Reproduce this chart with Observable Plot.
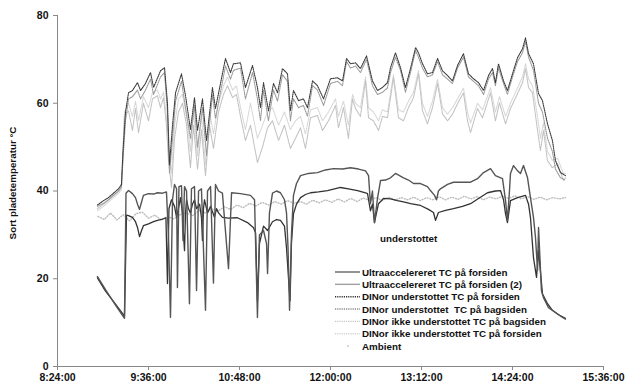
<!DOCTYPE html>
<html><head><meta charset="utf-8">
<script src="https://cdn.jsdelivr.net/npm/d3@7"></script>
<script src="https://cdn.jsdelivr.net/npm/@observablehq/plot@0.6"></script>
<style>
body{margin:0;background:#fff;}
#wrap{position:relative;width:628px;height:387px;font-family:"Liberation Sans",Arial,sans-serif;}
#wrap svg{display:block;}
#overlay{position:absolute;left:0;top:0;pointer-events:none;}
</style></head>
<body><div id="wrap"></div>
<script>
// time axis: minutes after 8:24:00
const xTicks = [0, 72, 144, 216, 288, 360, 432];
const yTicks = [0, 20, 40, 60, 80];
const startClock = 8 * 60 + 24;

// DINor understøttet series (shared time)
const tTop = [31.6,36.4,40.4,44.3,48.3,50.6,51.8,53.8,56.2,59.3,63.3,65.7,69.6,73.6,76.0,81.5,84.7,87.0,88.6,91.0,93.4,98.1,101.3,105.2,108.4,110.8,114.7,117.9,122.6,125.0,132.9,136.9,139.2,144.8,148.7,154.3,158.2,160.6,163.0,166.9,170.9,174.1,178.0,182.0,184.3,186.7,190.7,194.6,197.8,201.8,205.7,210.5,216.0,221.5,225.5,228.7,231.8,235.8,239.7,244.5,249.2,253.2,257.1,261.1,263.5,267.4,271.4,275.3,279.3,283.3,285.6,288.8,292.7,296.7,300.7,304.6,308.6,312.5,316.5,321.2,325.2,329.1,333.1,337.1,341.0,344.2,346.5,348.9,352.9,356.0,360.0,364.0,367.9,370.3,372.7,376.6,380.6,383.7,387.7,391.6,394.0,398.0,401.9];
const dinorStForside = [36.8,37.8,38.5,39.5,40.5,41.5,49,58,62.4,62.9,64.7,62.9,64.5,67,63.6,67.4,68.1,60.1,46,55,62.4,66.7,61.7,54,61.3,53.8,61,51.5,63.6,58.8,70.2,67,69,69.2,63.6,68.6,63.6,59,64.7,58.3,64.5,62.4,67.9,66.7,58.3,62.9,60.6,61,59,65.1,64,61,65.6,65.8,65.1,70.2,69,69.2,67.9,70.8,65.1,62.9,63.6,64.7,68.1,71.5,68.1,63.6,67.9,72.7,71.5,69,66.7,67,70.2,67.4,66.3,65.1,68.6,71.3,66.7,65.6,64.7,62.9,66.3,67.9,64.7,69,65.1,62.9,66.7,70.4,72.4,74.9,71.3,69,62.2,60.6,55.3,51.5,46.9,44.2,43.5];
const dinorStBagside = [36.5,37.2,38,39,40,41,47,56,61,61.5,63,61,63,65.5,62,66,67,58,44,52,60.5,65,59,52,59.5,50,59,48,62,56.5,68.5,65.5,67.5,68,61,67,61,56,63,56,63,60.5,66.5,65,56,61,59,59.5,57,64,63,59.5,64.5,65,64,69.5,68,68.5,67,70,64,62,62.5,63.5,67,70.5,67.5,62.5,67,72,70.5,68,66,66.5,69.5,66.5,65.5,64.5,68,70.5,66,65,64,62,65.5,67,64,68,64.5,62,66,69.5,71.5,74,70.5,67.5,60,58,52,49,45,43,42.5];

// DINor ikke understøttet series (shared time)
const tLow = [31.6,36.4,40.4,44.3,48.3,50.6,51.8,53.0,56.2,59.3,61.7,64.1,68.0,72.0,75.2,79.1,81.5,83.9,86.2,87.8,90.2,92.6,95.7,98.9,102.1,105.2,107.6,110.8,113.9,117.1,120.3,123.4,127.4,131.3,134.5,138.5,141.6,144.8,148.7,152.7,158.2,162.2,166.2,170.1,174.9,179.6,184.3,188.3,192.3,196.2,200.2,205.7,209.7,214.4,220.0,222.3,226.3,230.2,233.4,235.8,239.7,243.7,246.1,250.0,254.0,257.1,261.1,265.8,269.8,273.8,277.7,281.7,285.6,288.8,292.7,296.7,300.7,304.6,308.6,312.5,316.5,321.2,324.4,326.8,332.3,336.3,342.6,346.5,349.7,354.5,358.4,364.0,367.9,370.3,372.7,375.8,379.8,382.1,384.5,387.7,391.6,395.6,400.3,401.9];
const dinorIkkeBagside = [36,37,38,39,40,40.8,48,57,58.3,53.8,58.8,53.3,60,56,61,61.7,59,61.3,55,47,40.8,52,58,60,55,45.3,55,45,54,43.5,55,49.7,58,62,64,61.3,62,57,51.5,55,46.5,50,54.4,56,51.5,55,49.7,52,54.4,49.7,56.7,57.2,53.8,56,59.5,54.4,59,52,61,58.8,57,65.1,56.7,56,53.8,57,56.7,65.8,56.7,56,59,61.3,66.7,58.3,55.3,59,64.5,57.6,56,57.5,59.9,62.4,56,53.3,58.8,56.7,62.4,56,60.1,55.3,58.8,62.2,64.7,67.9,63.6,62.4,53.8,49.2,53.8,46.9,45.3,46.2,42.4,43];
const dinorIkkeForside = [35.5,36.5,37.5,38.5,39.5,40.3,50,58,60,57,60.5,56,61.5,59,62.5,63,61,62.5,57,50,44,55,61,62,57,49,58,48,57,46,58,53,60,64,66,63,64,59,54,60,52,55,58,59,55,58,54,56,57,53,58.5,59,56,58,61,57,60.5,55,62,60,59,66,59,58,56,58.5,58,66.5,58.5,58,60.5,62.5,67.5,60,57,60.5,65.5,59,57.5,59,61,63.5,58,55.5,60,58.5,63.5,58,61.5,57,60,63.5,66,69,65.5,64,57,52,55.5,49,47,47.5,44,44];

// Ultraaccelereret series: [minutes after 8:24, °C]
const ultraForside = [[31.6,20.5],[38.0,17.5],[45.9,14.0],[53.0,11.0],[54.2,39.5],[56.2,40.1],[59.3,39.4],[61.7,38.5],[63.3,37.0],[64.9,35.8],[66.5,37.5],[68.0,39.0],[72.0,39.4],[76.0,39.3],[79.1,39.6],[83.1,39.5],[86.2,39.8],[87.8,30],[89.4,11.2],[91.0,38],[92.6,41.5],[94.2,40.5],[94.9,18],[96.1,41],[98.1,41.2],[99.3,28.7],[100.5,41],[102.1,40],[104.4,14.3],[106.0,40.5],[108.4,41],[110.0,17.3],[111.6,40],[113.9,40.5],[117.1,12.8],[118.7,40],[121.1,41],[123.4,19],[125.0,41.5],[127.4,40],[130.5,39.5],[135.3,22.3],[137.7,39.6],[144.8,39.4],[152.7,39.0],[155.9,38.0],[158.2,11.2],[159.8,30],[163.0,31],[165.4,28],[166.2,21.2],[167.7,35],[170.1,39.5],[173.3,40.0],[176.4,39.6],[179.6,38],[181.2,35],[182.4,27],[183.6,12.8],[185.1,30],[186.7,39],[189.1,41.7],[192.3,43.5],[198.6,44],[205.7,44.2],[212.0,44.8],[218.4,45.1],[225.5,45.0],[231.8,45.3],[238.2,45],[243.7,44.6],[246.1,43.5],[247.6,37.1],[249.2,40],[250.8,32.8],[253.2,38.3],[255.6,42.4],[259.5,42.5],[263.5,43],[267.4,44],[273.8,43],[277.7,42.5],[281.7,41.7],[287.2,41.7],[292.7,41],[295.1,40.1],[298.3,39],[299.9,38],[301.4,40],[303.0,40.5],[308.6,41.5],[313.3,42],[318.9,42],[326.8,42],[332.3,42.8],[337.1,44.2],[342.6,45.1],[346.5,43.5],[352.1,42.8],[354.5,37.8],[356.0,33.3],[357.6,40],[358.4,44],[360.8,45.8],[364.0,44.6],[366.3,44],[368.7,45.8],[371.9,43],[374.2,38.5],[376.6,34],[378.2,29.4],[379.8,21.9],[380.6,31.7],[382.9,17.3],[384.5,15.7],[388.5,13.4],[394.0,12.3],[398.0,11.5],[401.9,10.8]];
const ultraForside2 = [[31.6,20.2],[38.0,17.2],[45.9,14.2],[53.0,11.5],[54.6,34.5],[56.2,34.4],[59.3,34.0],[61.7,33.0],[63.3,31.7],[64.9,29.6],[66.5,31.0],[68.0,32.1],[72.0,32.5],[76.0,33.0],[79.1,33.3],[83.1,33.6],[85.8,33.9],[87.0,18.9],[88.2,36],[90.2,38],[92.6,36.5],[94.2,34],[95.7,36],[97.3,38.5],[98.9,35],[99.7,30],[100.5,26.4],[101.3,35],[102.1,38],[103.6,36],[105.2,35],[106.8,37],[108.4,38],[110.0,36],[112.4,37],[113.9,34],[114.7,28.7],[115.5,36],[116.3,38],[118.7,35],[121.1,36.5],[124.2,34],[125.8,36],[127.4,35],[130.5,34.0],[135.3,33.8],[142.4,33.9],[150.3,32.8],[155.1,31.6],[156.7,30.5],[158.2,15],[159.8,28],[163.0,32],[166.2,31],[170.1,33],[173.3,33.5],[176.4,33.3],[179.6,32],[181.2,27],[182.8,20],[184.0,15],[185.1,28],[186.7,34.8],[189.1,37],[192.3,38.5],[196.2,39.2],[200.2,39.6],[206.5,39.8],[213.6,40.1],[219.2,40.5],[223.9,40.8],[230.2,40.5],[237.4,40.1],[243.7,39.6],[245.3,39.4],[247.6,35.5],[249.2,37],[250.8,32.8],[252.4,35],[254.0,37.1],[257.9,38.3],[263.5,38.2],[269.0,37.8],[273.8,37.5],[279.3,37.1],[287.2,36.7],[293.5,35.8],[297.5,35.1],[299.1,33.3],[301.4,35.1],[307.0,35.6],[313.3,36],[320.4,36.5],[326.8,37.1],[333.1,38.3],[340.2,39.6],[346.5,40],[350.5,40.1],[352.9,38],[354.5,34.8],[356.0,32.8],[358.4,37.8],[364.0,38.5],[370.3,39],[372.7,37],[374.2,34],[376.6,24.8],[379.0,20.3],[380.6,26.4],[383.7,16.6],[387.7,14.3],[391.6,12.8],[396.4,11.8],[401.9,11.0]];

// Ambient: [minutes after 8:24, °C]
const ambient = [[32,34.2],[37,33.5],[42,35],[47,33.4],[52,34.6],[57,33.2],[62,34.8],[67,35.2],[72,33.8],[77,34.5],[82,33.4],[87,34.2],[92,33.6],[97,34.6],[102,35.0],[107,34.4],[112,35.6],[117,35.0],[122,36.0],[127,35.4],[132,36.4],[137,35.8],[142,36.8],[147,36.2],[152,37.2],[157,36.6],[162,37.4],[167,36.8],[172,37.6],[177,37.0],[182,37.8],[187,37.2],[192,37.6],[197,37.0],[202,37.9],[207,37.3],[212,38.0],[217,37.4],[222,38.2],[227,37.5],[232,38.3],[237,37.6],[242,38.4],[247,37.8],[252,38.5],[257,37.8],[262,38.6],[267,37.9],[272,38.5],[277,38.0],[282,38.6],[287,37.8],[292,38.5],[297,38.0],[302,38.7],[307,38.0],[312,38.6],[317,38.1],[322,38.8],[327,38.2],[332,38.7],[337,38.0],[342,38.6],[347,38.2],[352,38.8],[357,38.3],[362,38.9],[367,38.2],[372,38.7],[377,38.1],[382,38.6],[387,38.0],[392,38.5],[397,38.2],[402,38.5]];

const legendLabels = [
  "Ultraaccelereret TC på forsiden",
  "Ultraaccelereret TC på forsiden (2)",
  "DINor understottet TC på forsiden",
  "DINor understottet  TC på bagsiden",
  "DINor ikke understottet TC på bagsiden",
  "DINor ikke understottet TC på forsiden",
  "Ambient"
];
const legendColors = ["#666", "#a0a0a0", "#333", "#888", "#c4c4c4", "#d4d4d4", "#bbb"];
const legendDash = [null, null, "1.2,1", "1.2,1", "1.2,1", "1.2,1", "dot"];
const annotation = "understottet";
const yLabel = "Sort pladetemperatur °C";

const fmt = m => { const t = startClock + m; return `${Math.floor(t/60)}:${String(t%60).padStart(2,"0")}:00`; };
const zipTV = (t, v) => t.map((ti, i) => ({t: ti, v: v[i]}));
const pairs = a => a.map(([t, v]) => ({t, v}));

const chart = Plot.plot({
  width: 628, height: 387,
  marginLeft: 57, marginRight: 25, marginTop: 15, marginBottom: 21,
  style: {fontFamily: "'Liberation Sans', Arial, sans-serif", fontSize: "10.5px", fontWeight: "bold", color: "#111", background: "#fff"},
  x: {domain: [0, 432]},
  y: {domain: [0, 80]},
  marks: [
    Plot.line(zipTV(tLow, dinorIkkeForside), {x: "t", y: "v", stroke: "#d6d6d6", strokeWidth: 1.1, strokeDasharray: "1.2,1"}),
    Plot.line(zipTV(tLow, dinorIkkeBagside), {x: "t", y: "v", stroke: "#c2c2c2", strokeWidth: 1.1, strokeDasharray: "1.6,0.8"}),
    Plot.line(pairs(ambient), {x: "t", y: "v", stroke: "#bdbdbd", strokeWidth: 1.4, strokeDasharray: "1,1.8"}),
    Plot.line(zipTV(tTop, dinorStBagside), {x: "t", y: "v", stroke: "#9a9a9a", strokeWidth: 1.1, strokeDasharray: "1.2,1"}),
    Plot.line(zipTV(tTop, dinorStForside), {x: "t", y: "v", stroke: "#3a3a3a", strokeWidth: 1.1, strokeDasharray: "1.2,1"}),
    Plot.line(pairs(ultraForside2), {x: "t", y: "v", stroke: "#333", strokeWidth: 1.3}),
    Plot.line(pairs(ultraForside), {x: "t", y: "v", stroke: "#555", strokeWidth: 1.4}),
    Plot.ruleX([0], {stroke: "#888"}),
    Plot.ruleY([0], {stroke: "#888"}),
    Plot.axisX({ticks: xTicks, tickFormat: fmt, tickSize: 4, tickPadding: 3, stroke: "#888", label: null}),
    Plot.axisY({ticks: yTicks, tickSize: 4, tickPadding: 5, stroke: "#888", label: null}),
    Plot.text([yLabel], {frameAnchor: "left", rotate: -90, dx: -45, dy: -8, textAnchor: "middle", fontSize: 9.8, fontWeight: "bold", fill: "#111"})
  ]
});
const wrap = document.getElementById("wrap");
wrap.appendChild(chart);

// legend + annotation overlay
const ov = d3.select(wrap).append("svg").attr("id", "overlay").attr("width", 628).attr("height", 387)
  .style("font-family", "'Liberation Sans', Arial, sans-serif").style("font-size", "9.8px").style("font-weight", "bold");
ov.append("text").attr("x", 380).attr("y", 238).attr("dominant-baseline", "central").attr("fill", "#111").text(annotation);
const rows = ov.selectAll("g.row").data(legendLabels).join("g").attr("class", "row")
  .attr("transform", (d, i) => `translate(335,${272 + i * 12.35})`);
rows.each(function(d, i) {
  const g = d3.select(this);
  if (legendDash[i] === "dot") {
    g.append("circle").attr("cx", 13).attr("cy", 0).attr("r", 0.9).attr("fill", legendColors[i]);
  } else {
    g.append("line").attr("x1", 0).attr("x2", 25).attr("y1", 0).attr("y2", 0)
      .attr("stroke", legendColors[i]).attr("stroke-width", 1.4)
      .attr("stroke-dasharray", legendDash[i]);
  }
  g.append("text").attr("x", 27).attr("y", 0).attr("dominant-baseline", "central").attr("fill", "#111")
    .style("white-space", "pre").text(d);
});
</script></body></html>
